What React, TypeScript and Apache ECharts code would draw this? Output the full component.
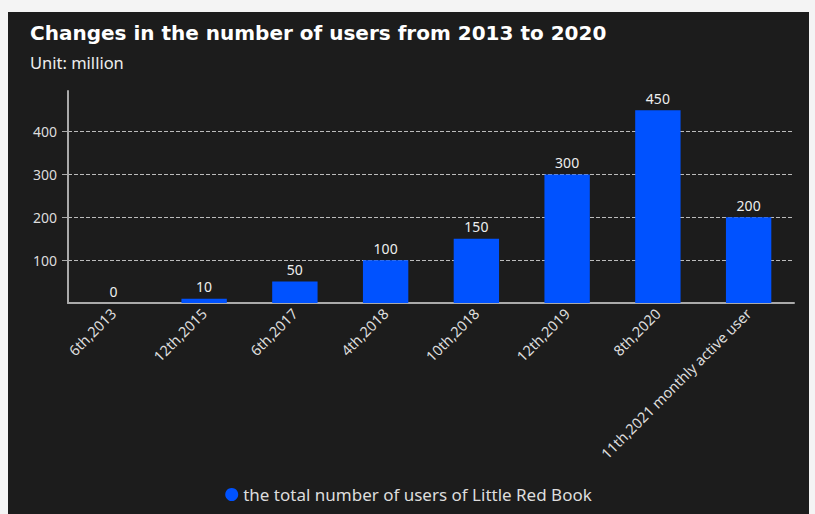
import React, { useEffect, useRef } from "react";
import * as echarts from "echarts";

const categories = [
  "6th,2013",
  "12th,2015",
  "6th,2017",
  "4th,2018",
  "10th,2018",
  "12th,2019",
  "8th,2020",
  "11th,2021 monthly active user",
];
const users = [0, 10, 50, 100, 150, 300, 450, 200];
const seriesName = "the total number of users of Little Red Book";
const titleText = "Changes in the number of users from 2013 to 2020";
const subText = "Unit: million";

const FONT = "'Noto Sans', 'Open Sans', sans-serif";
const TITLE_FONT = "'DejaVu Sans', 'Noto Sans', sans-serif";

export default function App() {
  const ref = useRef<HTMLDivElement>(null);
  useEffect(() => {
    document.body.style.background = "#f4f4f4";
    document.body.style.margin = "0";
    const chart = echarts.init(ref.current!, null, { renderer: "svg" });
    chart.setOption({
      animation: false,
      backgroundColor: "#1c1c1c",
      textStyle: { fontFamily: FONT },
      title: {
        text: titleText,
        subtext: subText,
        left: 17,
        top: 6,
        itemGap: 11,
        textStyle: { color: "#ffffff", fontSize: 20, fontWeight: "bold", fontFamily: TITLE_FONT },
        subtextStyle: { color: "#eeeeee", fontSize: 16.5, fontFamily: FONT },
      },
      legend: {
        top: 469,
        left: "center",
        icon: "circle",
        itemWidth: 13,
        itemHeight: 13,
        itemGap: 8,
        textStyle: { color: "#dddddd", fontSize: 17, fontFamily: FONT },
        data: [seriesName],
      },
      grid: { left: 60, right: 15, top: 79, bottom: 211, containLabel: false },
      xAxis: {
        type: "category",
        data: categories,
        axisLine: { lineStyle: { color: "#aaaaaa", width: 2 } },
        axisTick: { alignWithLabel: true, length: 5, lineStyle: { color: "#aaaaaa" } },
        axisLabel: { rotate: 45, interval: 0, color: "#dddddd", fontSize: 14.5, fontFamily: FONT },
      },
      yAxis: {
        type: "value",
        min: 0,
        max: (v: { max: number }) => v.max * 1.1,
        interval: 100,
        axisLine: { show: true, lineStyle: { color: "#aaaaaa", width: 2 } },
        axisTick: { show: true, length: 6, lineStyle: { color: "#aaaaaa" } },
        axisLabel: {
          color: "#dddddd",
          fontSize: 14,
          margin: 11,
          showMinLabel: false,
          showMaxLabel: false,
          fontFamily: FONT,
        },
        splitLine: {
          show: true,
          showMinLine: false,
          showMaxLine: false,
          lineStyle: { color: "#bbbbbb", type: "dashed" },
        },
      },
      series: [
        {
          name: seriesName,
          type: "bar",
          data: users,
          barWidth: "50%",
          itemStyle: { color: "#0052ff" },
          label: { show: true, position: "top", color: "#eeeeee", fontSize: 14, fontFamily: FONT },
        },
      ],
    });
    return () => chart.dispose();
  }, []);
  return (
    <div style={{ padding: "12px 6px 0 8px" }}>
      <div ref={ref} style={{ width: 801, height: 502 }} />
    </div>
  );
}
